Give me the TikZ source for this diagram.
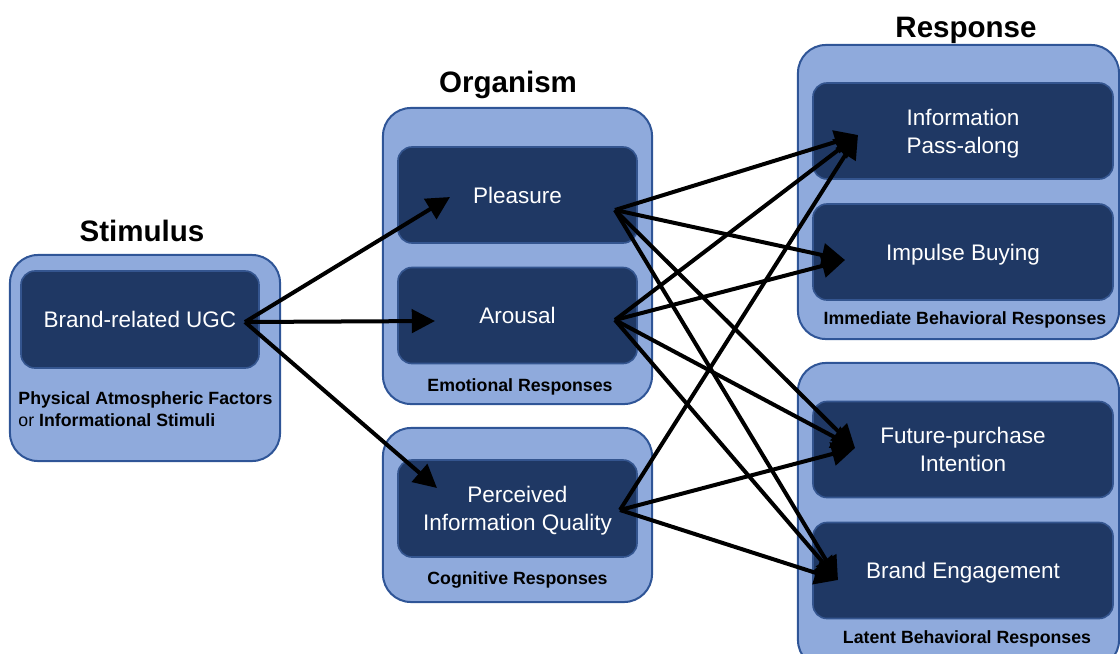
\documentclass[tikz,border=0pt]{standalone}
\usepackage{fontspec}
\setmainfont{Liberation Sans}
\usetikzlibrary{arrows.meta, positioning}
\definecolor{outerfill}{HTML}{8FAADC}
\definecolor{outerline}{HTML}{2F5597}
\definecolor{innerfill}{HTML}{1F3864}
\definecolor{innerline}{HTML}{34558F}
\tikzset{
    outer/.style = {rectangle, rounded corners=0.7cm, draw=outerline, fill=outerfill, line width=0.05cm},
    inner/.style = {rectangle, rounded corners=0.35cm, draw=innerline, fill=innerfill, line width=0.04cm,
                    text=white, align=center, font=\fontsize{16}{20}\selectfont, text depth=0pt,
                    minimum width=5.975cm, minimum height=2.4cm},
    title/.style = {anchor=base, font=\fontsize{21}{25}\selectfont\bfseries},
    group/.style = {anchor=base, font=\fontsize{12.6}{15.6}\selectfont\bfseries},
    link/.style = {-{Triangle[length=0.58cm, width=0.58cm]}, line width=0.1cm, black}
    }

\begin{document}
\begin{tikzpicture}[
      x = 0.025cm, y = -0.025cm % one unit is one pixel of the reference
    ]
    \useasboundingbox (0,0) rectangle (1120,653);

    % stimulus
    \node[title] (stimtitle) at (142,241) {Stimulus};
    \node[outer, minimum width=6.75cm, minimum height=5.15cm] (stimbox) at (145,358) {};
    \node[inner, minimum width=5.95cm, minimum height=2.425cm] (ugc) at (140,319.5) {Brand-related UGC};
    \node[group, anchor=west, align=left] (stimgroup) at (13.5,409)
        {Physical Atmospheric Factors\\{\mdseries or} Informational Stimuli};

    % organism
    \node[title] (orgtitle) at (508,92) {Organism};
    \node[outer, minimum width=6.725cm, minimum height=7.4cm] (emobox) at (517.5,256) {};
    \node[inner] (pleas) at (517.5,195) {Pleasure};
    \node[inner] (arous) at (517.5,315.5) {Arousal};
    \node[group] (emogroup) at (520,391) {Emotional Responses};
    \node[outer, minimum width=6.725cm, minimum height=4.35cm] (cogbox) at (517.5,515) {};
    \node[inner, minimum height=2.425cm] (piq) at (517.5,508.5) {Perceived\\Information Quality};
    \node[group] (coggroup) at (517.5,584) {Cognitive Responses};

    % response
    \node[title] (resptitle) at (966,37) {Response};
    \node[outer, minimum width=8.025cm, minimum height=7.35cm] (immbox) at (958.5,192) {};
    \node[inner, minimum width=7.5cm] (info) at (963,131) {Information\\Pass-along};
    \node[inner, minimum width=7.5cm] (impulse) at (963,252) {Impulse Buying};
    \node[group] (immgroup) at (965,324) {Immediate Behavioral Responses};
    \node[outer, minimum width=8.025cm, minimum height=7.625cm] (latbox) at (958.5,515.5) {};
    \node[inner, minimum width=7.5cm] (future) at (963,449.5) {Future-purchase\\Intention};
    \node[inner, minimum width=7.5cm] (engage) at (963,570.5) {Brand Engagement};
    \node[group] (latgroup) at (967,643) {Latent Behavioral Responses};

    % arrow ends inside the boxes
    \coordinate (ugc-o) at (245,322);
    \coordinate (pleas-i) at (450,197);
    \coordinate (arous-i) at (435,321);
    \coordinate (piq-i) at (437,488);
    \coordinate (pleas-o) at (615,210);
    \coordinate (arous-o) at (615,320);
    \coordinate (piq-o) at (620,510);
    \coordinate (info-i) at (858,135);
    \coordinate (impulse-i) at (845,260);
    \coordinate (future-i) at (855,448);
    \coordinate (engage-i) at (838,580);

    \path (ugc-o) edge[link] (pleas-i);
    \path (ugc-o) edge[link] (arous-i);
    \path (ugc-o) edge[link] (piq-i);

    \path (pleas-o) edge[link] (info-i);
    \path (pleas-o) edge[link] (impulse-i);
    \path (pleas-o) edge[link] (future-i);
    \path (pleas-o) edge[link] (engage-i);

    \path (arous-o) edge[link] (info-i);
    \path (arous-o) edge[link] (impulse-i);
    \path (arous-o) edge[link] (future-i);
    \path (arous-o) edge[link] (engage-i);

    \path (piq-o) edge[link] (info-i);
    \path (piq-o) edge[link] (future-i);
    \path (piq-o) edge[link] (engage-i);
\end{tikzpicture}
\end{document}
